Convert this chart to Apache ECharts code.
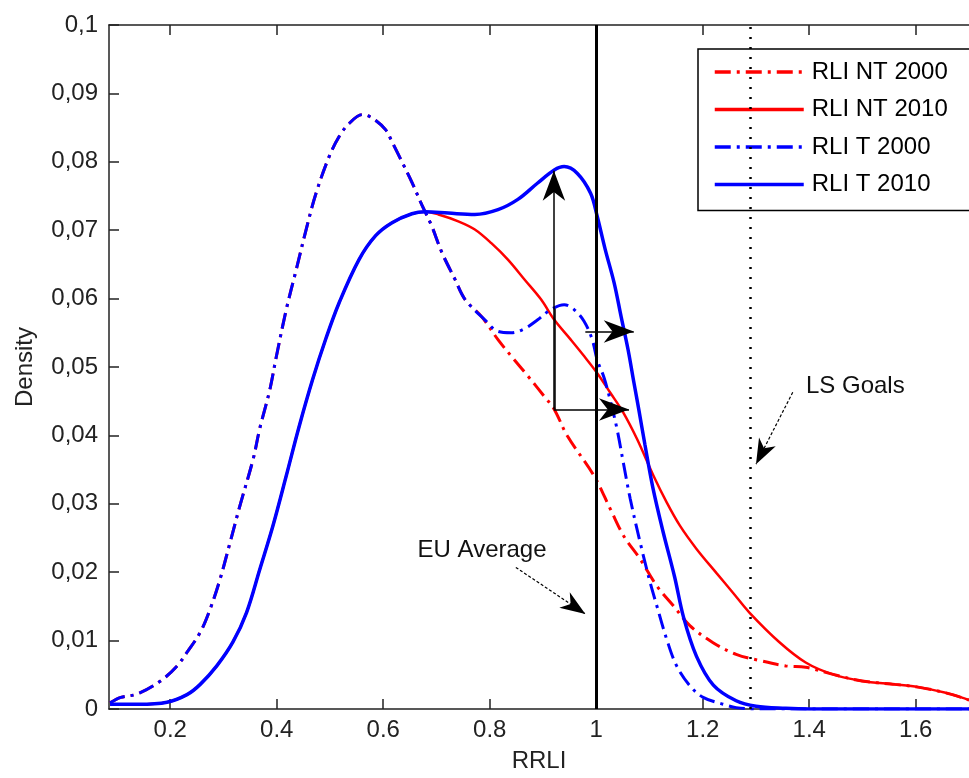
<!DOCTYPE html>
<html><head><meta charset="utf-8">
<script src="https://cdn.jsdelivr.net/npm/echarts@6/dist/echarts.min.js"></script>
<style>html,body{margin:0;padding:0;background:#fff}#c{width:969px;height:778px}</style>
</head><body><div id="c"></div>
<script>
// ---- tick labels ----
const xTicks = [0.2, 0.4, 0.6, 0.8, 1, 1.2, 1.4, 1.6];
const xTickLabels = ['0.2', '0.4', '0.6', '0.8', '1', '1.2', '1.4', '1.6'];
const yTickLabels = ['0', '0,01', '0,02', '0,03', '0,04', '0,05', '0,06', '0,07', '0,08', '0,09', '0,1'];
const seriesNames = ['RLI NT 2000', 'RLI NT 2010', 'RLI T 2000', 'RLI T 2010'];

// ---- RLI T 2010 (blue solid) ----
const t2010X = [0.087, 0.14, 0.194, 0.2315, 0.2563, 0.2874, 0.3178, 0.3433, 0.3681, 0.3929, 0.4179, 0.4417, 0.4675, 0.4925, 0.5172, 0.5545, 0.5857, 0.6166, 0.6539, 0.6788, 0.7223, 0.772, 0.8155, 0.8528, 0.89, 0.9212, 0.9398, 0.9646, 0.9894, 1.0019, 1.0168, 1.0336, 1.0466, 1.0596, 1.0708, 1.0801, 1.0913, 1.1062, 1.1249, 1.1472, 1.164, 1.1883, 1.2199, 1.2628, 1.3001, 1.356, 1.4, 1.7];
const t2010Y = [0.0007, 0.0007, 0.001, 0.0021, 0.0036, 0.0063, 0.0098, 0.0141, 0.0204, 0.0268, 0.0341, 0.0412, 0.0482, 0.0542, 0.0594, 0.0657, 0.0692, 0.0711, 0.0724, 0.0727, 0.0725, 0.0723, 0.073, 0.0745, 0.0769, 0.0788, 0.0793, 0.0783, 0.0754, 0.072, 0.0672, 0.0623, 0.0574, 0.0526, 0.0477, 0.0437, 0.0387, 0.0324, 0.0261, 0.0193, 0.0134, 0.0077, 0.0035, 0.0012, 0.0004, 0.0001, 0, 0];

// ---- RLI T 2000 (blue dash-dot) ----
const t2000X = [0.087, 0.1072, 0.1383, 0.1817, 0.2129, 0.2315, 0.2563, 0.2749, 0.2936, 0.3122, 0.3308, 0.3556, 0.3681, 0.3868, 0.3992, 0.4179, 0.4365, 0.4552, 0.4738, 0.4986, 0.5172, 0.5359, 0.5607, 0.5793, 0.6043, 0.6166, 0.6352, 0.6539, 0.6725, 0.6911, 0.7098, 0.7348, 0.7534, 0.7907, 0.8155, 0.8403, 0.8652, 0.89, 0.9148, 0.9398, 0.9584, 0.9771, 0.9925, 1.0019, 1.0144, 1.0267, 1.0391, 1.0516, 1.0639, 1.0826, 1.1012, 1.1137, 1.1323, 1.151, 1.1758, 1.2007, 1.238, 1.2628, 1.3, 1.7];
const t2000Y = [0.0009, 0.0017, 0.0022, 0.0041, 0.0063, 0.0083, 0.0112, 0.0146, 0.019, 0.0243, 0.0297, 0.0365, 0.041, 0.0466, 0.0515, 0.0584, 0.0642, 0.0701, 0.0754, 0.0808, 0.0837, 0.0856, 0.0869, 0.0864, 0.0847, 0.0829, 0.08, 0.077, 0.0737, 0.0706, 0.0668, 0.0628, 0.0599, 0.0569, 0.0552, 0.055, 0.0556, 0.0569, 0.0584, 0.0591, 0.0584, 0.0567, 0.054, 0.051, 0.0485, 0.045, 0.0409, 0.0357, 0.0307, 0.0243, 0.0185, 0.0151, 0.0102, 0.0063, 0.0034, 0.0017, 0.0007, 0.0002, 0, 0];

// ---- RLI NT 2010 (red solid; hidden under T 2010 left of 0.7) ----
const nt2010X = [0.087, 0.14, 0.194, 0.2315, 0.2563, 0.2874, 0.3178, 0.3433, 0.3681, 0.3929, 0.4179, 0.4417, 0.4675, 0.4925, 0.5172, 0.5545, 0.5857, 0.6166, 0.6539, 0.6788, 0.7036, 0.7409, 0.772, 0.803, 0.8341, 0.8652, 0.8962, 0.9212, 0.9521, 0.9771, 1.0019, 1.0267, 1.0503, 1.0764, 1.1075, 1.1323, 1.1571, 1.1883, 1.2255, 1.2567, 1.2876, 1.3435, 1.3933, 1.4431, 1.499, 1.561, 1.6045, 1.6542, 1.6854, 1.7];
const nt2010Y = [0.0007, 0.0007, 0.001, 0.0021, 0.0036, 0.0063, 0.0098, 0.0141, 0.0204, 0.0268, 0.0341, 0.0412, 0.0482, 0.0542, 0.0594, 0.0657, 0.0692, 0.0711, 0.0724, 0.0727, 0.0723, 0.0713, 0.0701, 0.0681, 0.0657, 0.0628, 0.0599, 0.0569, 0.054, 0.0516, 0.0491, 0.0462, 0.0434, 0.0395, 0.0341, 0.0302, 0.0268, 0.0234, 0.0199, 0.017, 0.0141, 0.0098, 0.0068, 0.0051, 0.0041, 0.0036, 0.0032, 0.0024, 0.0017, 0.0013];

// ---- RLI NT 2000 (red dash-dot; hidden under T 2000 left of 0.78) ----
const nt2000X = [0.087, 0.1072, 0.1383, 0.1817, 0.2129, 0.2315, 0.2563, 0.2749, 0.2936, 0.3122, 0.3308, 0.3556, 0.3681, 0.3868, 0.3992, 0.4179, 0.4365, 0.4552, 0.4738, 0.4986, 0.5172, 0.5359, 0.5607, 0.5793, 0.6043, 0.6166, 0.6352, 0.6539, 0.6725, 0.6911, 0.7098, 0.7348, 0.7534, 0.7843, 0.8155, 0.8403, 0.8714, 0.9025, 0.9212, 0.9459, 0.9957, 1.0267, 1.0516, 1.0826, 1.1137, 1.1448, 1.1758, 1.2194, 1.2628, 1.3062, 1.356, 1.3933, 1.4431, 1.499, 1.561, 1.6045, 1.6542, 1.6854, 1.7];
const nt2000Y = [0.0009, 0.0017, 0.0022, 0.0041, 0.0063, 0.0083, 0.0112, 0.0146, 0.019, 0.0243, 0.0297, 0.0365, 0.041, 0.0466, 0.0515, 0.0584, 0.0642, 0.0701, 0.0754, 0.0808, 0.0837, 0.0856, 0.0869, 0.0864, 0.0847, 0.0829, 0.08, 0.077, 0.0737, 0.0706, 0.0668, 0.0628, 0.0599, 0.0574, 0.054, 0.0516, 0.0487, 0.0457, 0.0438, 0.0399, 0.0341, 0.0292, 0.0253, 0.0219, 0.018, 0.0151, 0.0122, 0.0097, 0.008, 0.0071, 0.0063, 0.0061, 0.0051, 0.0041, 0.0036, 0.0032, 0.0024, 0.0017, 0.0013];

// ---- reference lines & annotations (data coordinates) ----
const euAverage = 1.0;
const lsGoals = 1.29;
const shiftArrows = [   // [x1, y1, x2, y2], arrow head at the second point
  [0.9205, 0.0438, 0.9205, 0.0787],
  [0.9205, 0.0438, 1.0615, 0.0438],
  [0.9795, 0.0552, 1.0705, 0.0552]
];
const shiftSegments = [ [0.9225, 0.0438, 0.9225, 0.0585] ];
const labelArrows = [   // thin pointer arrows from the text labels
  [0.849, 0.0207, 0.9795, 0.0139],
  [1.369, 0.0463, 1.300, 0.0358]
];
const labelTexts = ['EU Average', 'LS Goals'];
const labelPos = [[0.7856, 0.0232], [1.4865, 0.0471]];

const FONT = 'Liberation Sans';
const RED = '#ff0000', BLUE = '#0000ff';
const DASHDOT = [16, 6, 3, 6];
const ARROW = 'path://M-24,-24 M24,24 M0,0 L9,24 L0,17 L-9,24 Z';
const zip = (xs, ys) => xs.map((x, i) => [x, ys[i]]);

const chart = echarts.init(document.getElementById('c'), null, {renderer: 'canvas'});

const axisColor = '#222';
const option = {
  animation: false,
  backgroundColor: '#fff',
  textStyle: {fontFamily: FONT},
  grid: {left: 109, right: -5, top: 25, bottom: 67, containLabel: false},
  legend: {
    data: seriesNames, orient: 'vertical', left: 698, top: 49,
    padding: [10, 40, 13, 15], itemWidth: 89, itemHeight: 14, itemGap: 11.5,
    borderColor: '#000', borderWidth: 1.5, borderRadius: 0, selectedMode: false,
    itemStyle: {opacity: 0},
    lineStyle: {width: 3.5},
    textStyle: {fontSize: 24, color: '#000', fontFamily: FONT, lineHeight: 26, padding: [0, 0, 0, 3]}
  },
  xAxis: [{
    type: 'value', min: 0.085, max: 1.7, position: 'bottom',
    axisLine: {show: true, onZero: false, lineStyle: {color: axisColor, width: 1.5}},
    axisTick: {show: true, inside: true, length: 10, customValues: xTicks, lineStyle: {color: axisColor, width: 1.5}},
    axisLabel: {show: true, customValues: xTicks, margin: 9, fontSize: 24, color: axisColor, fontFamily: FONT,
      formatter: (v) => { let best = 0; xTicks.forEach((t, i) => { if (Math.abs(t - v) < Math.abs(xTicks[best] - v)) best = i; }); return xTickLabels[best]; }},
    splitLine: {show: false},
    name: 'RRLI', nameLocation: 'middle', nameGap: 40,
    nameTextStyle: {fontSize: 24, color: axisColor, fontFamily: FONT}
  }, {
    type: 'value', min: 0.085, max: 1.7, position: 'top',
    axisLine: {show: true, onZero: false, lineStyle: {color: axisColor, width: 1.5}},
    axisTick: {show: true, inside: true, length: 10, customValues: xTicks, lineStyle: {color: axisColor, width: 1.5}},
    axisLabel: {show: false}, splitLine: {show: false}
  }],
  yAxis: [{
    type: 'value', min: 0, max: 0.1, interval: 0.01,
    axisLine: {show: true, onZero: false, lineStyle: {color: axisColor, width: 1.5}},
    axisTick: {show: true, inside: true, length: 10, lineStyle: {color: axisColor, width: 1.5}},
    axisLabel: {margin: 11, fontSize: 24, color: axisColor, fontFamily: FONT,
      formatter: (v) => yTickLabels[Math.round(v / 0.01)]},
    splitLine: {show: false},
    name: 'Density', nameLocation: 'middle', nameGap: 72, nameRotate: 90,
    nameTextStyle: {fontSize: 24, color: axisColor, fontFamily: FONT}
  }],
  series: [
    {name: seriesNames[0], type: 'line', data: zip(nt2000X, nt2000Y), symbol: 'none', smooth: 0.35,
      lineStyle: {color: RED, width: 3, type: DASHDOT}, itemStyle: {color: RED}},
    {name: seriesNames[1], type: 'line', data: zip(nt2010X, nt2010Y), symbol: 'none', smooth: 0.35,
      lineStyle: {color: RED, width: 2.5, type: 'solid'}, itemStyle: {color: RED}},
    {name: seriesNames[2], type: 'line', data: zip(t2000X, t2000Y), symbol: 'none', smooth: 0.35,
      lineStyle: {color: BLUE, width: 3, type: DASHDOT}, itemStyle: {color: BLUE}},
    {name: seriesNames[3], type: 'line', data: zip(t2010X, t2010Y), symbol: 'none', smooth: 0.35,
      lineStyle: {color: BLUE, width: 3.5, type: 'solid'}, itemStyle: {color: BLUE}},
    {name: 'refLines', type: 'line', data: [], symbol: 'none', silent: true,
      markLine: {
        silent: true, symbol: 'none', animation: false, label: {show: false},
        data: [
          {xAxis: euAverage, lineStyle: {color: '#000', width: 3, type: 'solid'}},
          {xAxis: lsGoals, lineStyle: {color: '#000', width: 2.5, type: [2, 8]}}
        ]
      }},
    {name: 'arrows', type: 'line', data: [], symbol: 'none', silent: true,
      markLine: {
        silent: true, animation: false, label: {show: false}, symbol: ['none', ARROW], symbolSize: 60,
        data: [].concat(
          shiftArrows.map(a => [
            {coord: [a[0], a[1]], lineStyle: {color: '#000', width: 1.5, type: 'solid'}, symbol: 'none'},
            {coord: [a[2], a[3]], symbol: ARROW, symbolSize: 60, itemStyle: {color: '#000'}}
          ]),
          shiftSegments.map(a => [
            {coord: [a[0], a[1]], lineStyle: {color: '#000', width: 1.5, type: 'solid'}, symbol: 'none'},
            {coord: [a[2], a[3]], symbol: 'none'}
          ]),
          labelArrows.map(a => [
            {coord: [a[0], a[1]], lineStyle: {color: '#000', width: 1.2, type: [3, 2]}, symbol: 'none'},
            {coord: [a[2], a[3]], symbol: ARROW, symbolSize: 50, itemStyle: {color: '#000'}}
          ])
        )
      },
      markPoint: {
        silent: true, animation: false, symbol: 'circle', symbolSize: 1,
        itemStyle: {color: 'rgba(0,0,0,0)'},
        label: {show: true, position: 'inside', formatter: '{b}', color: '#111', fontSize: 24, fontFamily: FONT},
        data: labelTexts.map((t, i) => ({name: t, coord: labelPos[i]}))
      }}
  ]
};
chart.setOption(option);
</script>
</body></html>
